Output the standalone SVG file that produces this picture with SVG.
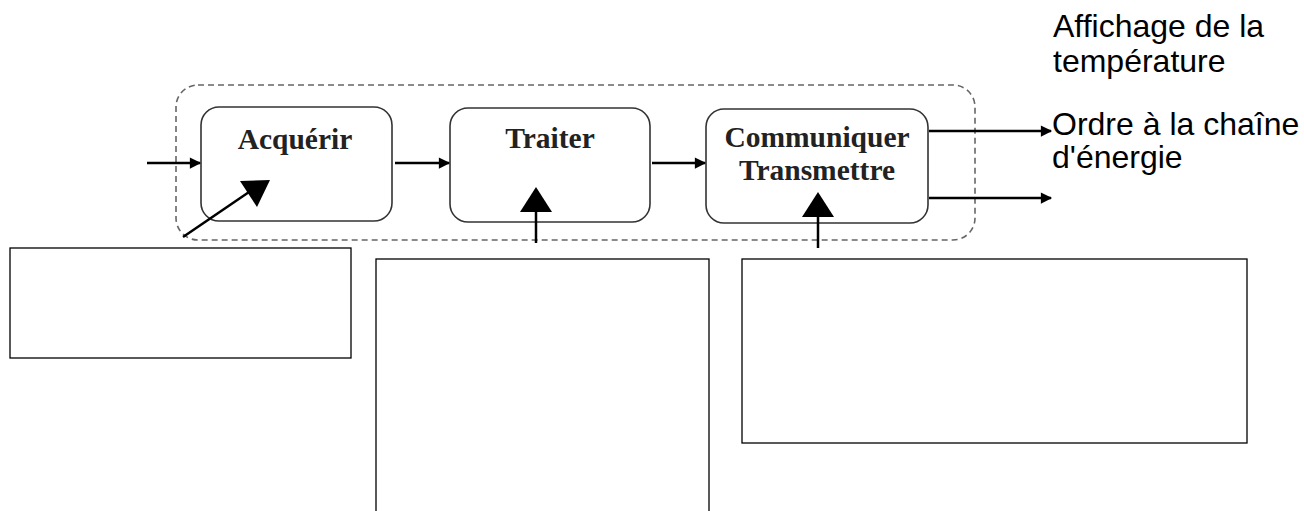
<svg xmlns="http://www.w3.org/2000/svg" width="1304" height="511" viewBox="0 0 1304 511">
<style>
.node{fill:#fff;stroke:#333;stroke-width:1.6}
.lbl{font-family:"Liberation Serif","Times New Roman",serif;font-weight:bold;font-size:29.5px;fill:#222;text-anchor:middle}
.out{font-family:"Liberation Sans",Arial,sans-serif;font-size:32px;fill:#000}
.ln{stroke:#000;stroke-width:2.5;fill:none}
.box{fill:none;stroke:#000;stroke-width:1.3}
.big{fill:#000}
</style>
<defs>
<marker id="ah" viewBox="0 0 10 10" refX="9" refY="5" markerWidth="5" markerHeight="4.5" orient="auto" markerUnits="strokeWidth">
<path d="M0,0 L10,5 L0,10 z" fill="#000"/>
</marker>
</defs>
<g id="frame">
<rect x="176" y="85" width="799" height="155" rx="22" fill="none" stroke="#666" stroke-width="1.6" stroke-dasharray="6,4"/>
</g>
<g id="acquerir">
<rect class="node" x="201" y="107" width="191" height="114" rx="18"/>
<text class="lbl" x="295" y="149">Acquérir</text>
</g>
<g id="traiter">
<rect class="node" x="450" y="108" width="200" height="114" rx="18"/>
<text class="lbl" x="550" y="148">Traiter</text>
</g>
<g id="communiquer">
<rect class="node" x="706" y="109" width="222" height="114" rx="18"/>
<text class="lbl" x="817" y="147">Communiquer</text>
<text class="lbl" x="817" y="180">Transmettre</text>
</g>
<g id="box1"><rect class="box" x="10" y="248" width="341" height="110"/></g>
<g id="box2"><rect class="box" x="376" y="259" width="333" height="260"/></g>
<g id="box3"><rect class="box" x="742" y="259" width="505" height="184"/></g>
<g id="outputs">
<text class="out" x="1053" y="37">Affichage de la</text>
<text class="out" x="1053" y="72">température</text>
<text class="out" x="1052" y="135">Ordre à la chaîne</text>
<text class="out" x="1052" y="168">d'énergie</text>
</g>
<g id="connectors">
<line class="ln" x1="147" y1="163" x2="200" y2="163" marker-end="url(#ah)"/>
<line class="ln" x1="395" y1="163" x2="449" y2="163" marker-end="url(#ah)"/>
<line class="ln" x1="652" y1="163" x2="705" y2="163" marker-end="url(#ah)"/>
<line class="ln" x1="929" y1="131" x2="1051" y2="131" marker-end="url(#ah)"/>
<line class="ln" x1="929" y1="198" x2="1051" y2="198" marker-end="url(#ah)"/>
<line class="ln" x1="183" y1="237" x2="252" y2="190" stroke-width="3"/>
<polygon class="big" points="270,180 240,181 257,207"/>
<line class="ln" x1="536" y1="243" x2="536" y2="205" stroke-width="3.5"/>
<polygon class="big" points="536,187 520,212 552,212"/>
<line class="ln" x1="818" y1="248" x2="818" y2="210" stroke-width="3.5"/>
<polygon class="big" points="818,192 802,217 834,217"/>
</g>
</svg>
